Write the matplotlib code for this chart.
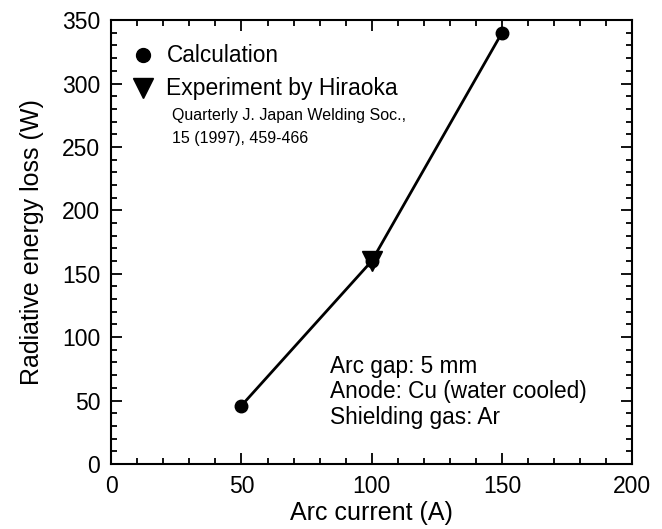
import matplotlib
matplotlib.use('Agg')
import matplotlib.pyplot as plt
from matplotlib.ticker import MultipleLocator

plt.rcParams['font.family'] = ['Liberation Sans', 'DejaVu Sans']

# calculation results
calc_current = [50, 100, 150]
calc_loss = [46, 160, 340]

# experiment (Hiraoka)
exp_current = [100]
exp_loss = [160]

fig = plt.figure(figsize=(6.62, 5.29), dpi=100)
ax = fig.add_axes([0.168, 0.123, 0.787, 0.839])

ax.plot(calc_current, calc_loss, color='black', lw=2, marker='o', ms=9, zorder=3)
ax.plot(exp_current, exp_loss, color='black', lw=0, marker='v', ms=15, zorder=4)

ax.set_xlim(0, 200)
ax.set_ylim(0, 350)
ax.xaxis.set_major_locator(MultipleLocator(50))
ax.xaxis.set_minor_locator(MultipleLocator(10))
ax.yaxis.set_major_locator(MultipleLocator(50))
ax.yaxis.set_minor_locator(MultipleLocator(10))
ax.tick_params(which='both', direction='in', top=True, right=True, width=1.3)
ax.tick_params(which='major', length=8, labelsize=16.5, pad=8)
ax.tick_params(which='minor', length=4)
for s in ax.spines.values():
    s.set_linewidth(1.5)

ax.set_xlabel('Arc current (A)', fontsize=18, labelpad=2)
ax.set_ylabel('Radiative energy loss (W)', fontsize=18, labelpad=13)

# legend drawn by hand
ax.plot([0.061], [0.921], 'o', color='black', ms=10, transform=ax.transAxes, clip_on=False)
ax.text(0.106, 0.921, 'Calculation', transform=ax.transAxes, fontsize=16.3, va='center')
ax.plot([0.061], [0.847], 'v', color='black', ms=15, transform=ax.transAxes, clip_on=False)
ax.text(0.106, 0.847, 'Experiment by Hiraoka', transform=ax.transAxes, fontsize=16.5, va='center')

ax.text(0.117, 0.802, 'Quarterly J. Japan Welding Soc.,\n15 (1997), 459-466',
        transform=ax.transAxes, fontsize=11.5, va='top', linespacing=1.7)

ax.text(0.42, 0.245, 'Arc gap: 5 mm\nAnode: Cu (water cooled)\nShielding gas: Ar',
        transform=ax.transAxes, fontsize=16.3, va='top', linespacing=1.12)

fig.savefig('out.png', dpi=100)
